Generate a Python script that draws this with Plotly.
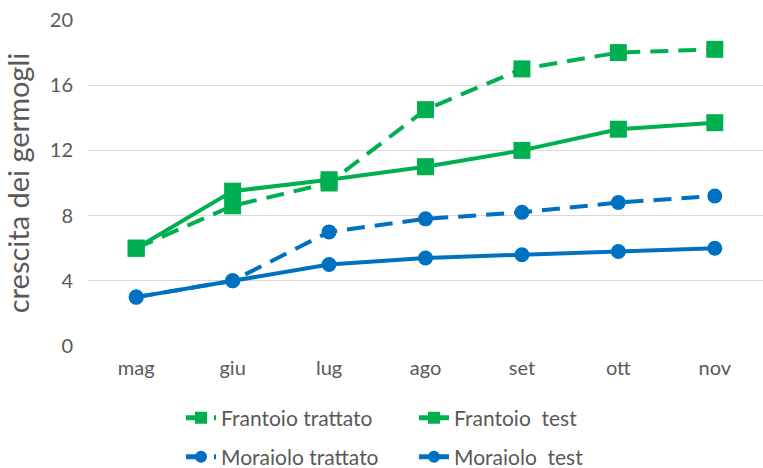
import plotly.graph_objects as go

months = ["mag", "giu", "lug", "ago", "set", "ott", "nov"]
frantoio_trattato = [6.0, 8.6, 10.0, 14.5, 17.0, 18.0, 18.2]
frantoio_test = [6.0, 9.5, 10.2, 11.0, 12.0, 13.3, 13.7]
moraiolo_trattato = [3.0, 4.0, 7.0, 7.8, 8.2, 8.8, 9.2]
moraiolo_test = [3.0, 4.0, 5.0, 5.4, 5.6, 5.8, 6.0]

GREEN = "#00B050"
BLUE = "#0070C0"
FONT = "Lato"
TXT = "#595959"

fig = go.Figure()
fig.add_trace(go.Scatter(x=months, y=frantoio_trattato, name="Frantoio trattato",
                         mode="lines+markers", legend="legend",
                         line=dict(color=GREEN, width=4, dash="18px,10px"),
                         marker=dict(symbol="square", size=17, color=GREEN)))
fig.add_trace(go.Scatter(x=months, y=frantoio_test, name="Frantoio  test",
                         mode="lines+markers", legend="legend",
                         line=dict(color=GREEN, width=4),
                         marker=dict(symbol="square", size=17, color=GREEN)))
fig.add_trace(go.Scatter(x=months, y=moraiolo_trattato, name="Moraiolo trattato",
                         mode="lines+markers", legend="legend2",
                         line=dict(color=BLUE, width=4, dash="18px,10px"),
                         marker=dict(symbol="circle", size=15, color=BLUE)))
fig.add_trace(go.Scatter(x=months, y=moraiolo_test, name="Moraiolo  test",
                         mode="lines+markers", legend="legend2",
                         line=dict(color=BLUE, width=4),
                         marker=dict(symbol="circle", size=15, color=BLUE)))

legend_common = dict(orientation="h", xanchor="left", yanchor="middle",
                     xref="container", yref="container",
                     font=dict(family=FONT, size=21, color=TXT),
                     bgcolor="rgba(0,0,0,0)", entrywidth=188,
                     entrywidthmode="pixels", itemsizing="constant",
                     tracegroupgap=0)

fig.update_layout(
    width=763, height=468,
    margin=dict(l=88, r=0, t=20, b=122),
    paper_bgcolor="white", plot_bgcolor="white",
    font=dict(family=FONT, color=TXT),
    showlegend=True,
    legend=dict(x=181 / 763, y=1 - 418 / 468, **legend_common),
    legend2=dict(x=181 / 763, y=1 - 457 / 468, **legend_common),
    xaxis=dict(range=[-0.5, 6.5], showgrid=False, zeroline=False, showline=False,
               automargin=False,
               tickfont=dict(family=FONT, size=20, color=TXT),
               ticklabelstandoff=8),
    yaxis=dict(range=[0, 20], tickvals=[0, 4, 8, 12, 16, 20],
               showgrid=True, gridcolor="#D9D9D9", gridwidth=1.3,
               zeroline=False, showline=False, automargin=False,
               tickfont=dict(family=FONT, size=20, color=TXT),
               ticklabelstandoff=14,
               title=dict(text="crescita dei germogli",
                          font=dict(family=FONT, size=29, color=TXT),
                          standoff=14)),
)

fig.write_html("out.html", config={"displayModeBar": False},
               post_script="document.body.style.margin='0';")
